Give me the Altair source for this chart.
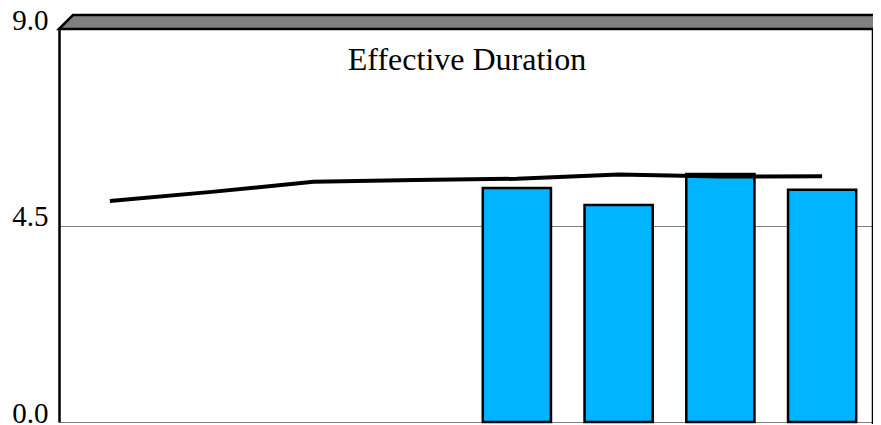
import altair as alt
import pandas as pd

# ---- data ----
categories = ["1", "2", "3", "4", "5", "6", "7", "8"]
line_values = [5.06, 5.27, 5.50, 5.54, 5.57, 5.67, 5.62, 5.63]
bar_categories = ["5", "6", "7", "8"]
bar_values = [5.36, 4.97, 5.68, 5.32]
y_ticks = [0.0, 4.5, 9.0]
title_text = "Effective Duration"

line_df = pd.DataFrame({"cat": categories, "value": line_values})
bar_df = pd.DataFrame({"cat": bar_categories, "value": bar_values})

W, H = 814, 393
DEPTH = 14
SERIF = "Liberation Serif"

x_scale = alt.Scale(domain=categories, paddingInner=0.33, paddingOuter=0.165)
y_scale = alt.Scale(domain=[0, 9], nice=False, zero=True)

y_axis = alt.Axis(
    values=y_ticks, format=".1f", title=None, ticks=False,
    labelFont=SERIF, labelFontSize=29, labelColor="black",
    labelBaseline="alphabetic", labelPadding=11,
    domain=True, domainColor="black", domainWidth=2.5,
    grid=True, gridColor="#808080", gridWidth=1.2,
)

# 3-D frame: back wall top and right side (custom symbol path in pixel units)
frame_path = (f"M0,0 L{DEPTH},{-DEPTH} L{W + DEPTH},{-DEPTH} "
              f"L{W + DEPTH},{H - DEPTH} L{W},{H} L{W},0 Z")
frame = alt.Chart(pd.DataFrame({"k": [0]})).mark_point(
    shape=frame_path, size=4, filled=True, fill="#808080",
    stroke="black", strokeWidth=2.5, opacity=1,
).encode(x=alt.value(0), y=alt.value(0))

bars = alt.Chart(bar_df).mark_bar(
    color="#00B4FF", stroke="black", strokeWidth=2.5,
).encode(
    x=alt.X("cat:N", scale=x_scale, axis=None, sort=categories),
    y=alt.Y("value:Q", scale=y_scale, axis=y_axis),
)

line = alt.Chart(line_df).mark_line(color="black", strokeWidth=4).encode(
    x=alt.X("cat:N", scale=x_scale, axis=None, sort=categories),
    y=alt.Y("value:Q", scale=y_scale, axis=y_axis),
)

title = alt.Chart(pd.DataFrame({"t": [title_text]})).mark_text(
    font=SERIF, fontSize=32, color="black", align="center", baseline="alphabetic",
).encode(x=alt.value(W / 2 + 1), y=alt.value(41), text="t:N")

chart = alt.layer(bars, line, title, frame).properties(
    width=W, height=H,
    autosize=alt.AutoSizeParams(type="none"),
    padding={"left": 51, "top": 21, "right": 0, "bottom": 2},
).configure_view(
    stroke="black", strokeWidth=2.5, fill="white",
).configure(background="white")

chart.save("out.html", embed_options={"renderer": "svg", "actions": False})
